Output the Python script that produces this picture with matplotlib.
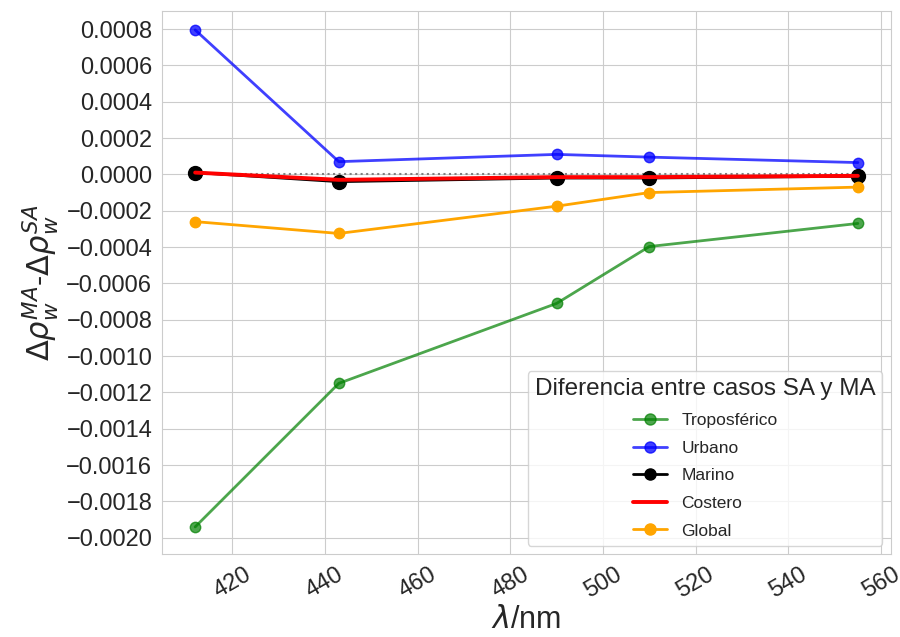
import numpy as np
import matplotlib
matplotlib.use("Agg")
import matplotlib.pyplot as plt
import seaborn as sns

sns.set_style("whitegrid")
plt.rcParams['font.family'] = ['Liberation Sans', 'DejaVu Sans']

wl = [412, 443, 490, 510, 555]

tropo = [-0.00194, -0.00115, -0.00071, -0.000397, -0.00027]
urbano = [0.000795, 0.00007, 0.00011, 0.000095, 0.000065]
marino = [0.00001, -0.00004, -0.00002, -0.00002, -0.00001]
costero = [0.00001, -0.00003, -0.000015, -0.000015, -0.000008]
glob = [-0.00026, -0.000325, -0.000175, -0.0001, -0.00007]

fig, ax = plt.subplots(figsize=(9, 6.37), dpi=100)
fig.subplots_adjust(left=0.18, right=0.99, bottom=0.13, top=0.983)

ax.plot(wl, np.zeros(len(wl)), ':', color='gray', lw=1.5)
ax.plot(wl, tropo, 'o-', color='green', alpha=0.7, lw=2, ms=7.5, label='Troposférico')
ax.plot(wl, urbano, 'o-', color='blue', alpha=0.75, lw=2, ms=7.5, label='Urbano')
ax.plot(wl, marino, 'o-', color='black', lw=2, ms=10, label='Marino')
ax.plot(wl, costero, '-', color='red', lw=2.8, label='Costero')
ax.plot(wl, glob, 'o-', color='orange', lw=2, ms=7.5, label='Global')

ax.set_ylim(-0.00209, 0.0009)
ax.set_xlabel(r'$\lambda$/nm', fontsize=22, labelpad=2)
ax.set_ylabel(r'$\Delta\rho_w^{MA}$-$\Delta\rho_w^{SA}$', fontsize=22, labelpad=4)
ax.tick_params(axis='both', labelsize=17)
plt.setp(ax.get_xticklabels(), rotation=30)
ax.set_yticks(np.arange(-0.0020, 0.00081, 0.0002))
ax.yaxis.set_major_formatter(matplotlib.ticker.FuncFormatter(
    lambda v, p: ('%.4f' % v).replace('-', '\u2212') if abs(v) > 1e-9 else '0.0000'))

leg = ax.legend(title='Diferencia entre casos SA y MA', loc='lower right',
                fontsize=12.5, title_fontsize=17.5, frameon=True, labelspacing=0.72,
                borderaxespad=0.5)
for h in leg.legend_handles:
    h.set_markersize(8)

fig.savefig('out.png', dpi=100)
